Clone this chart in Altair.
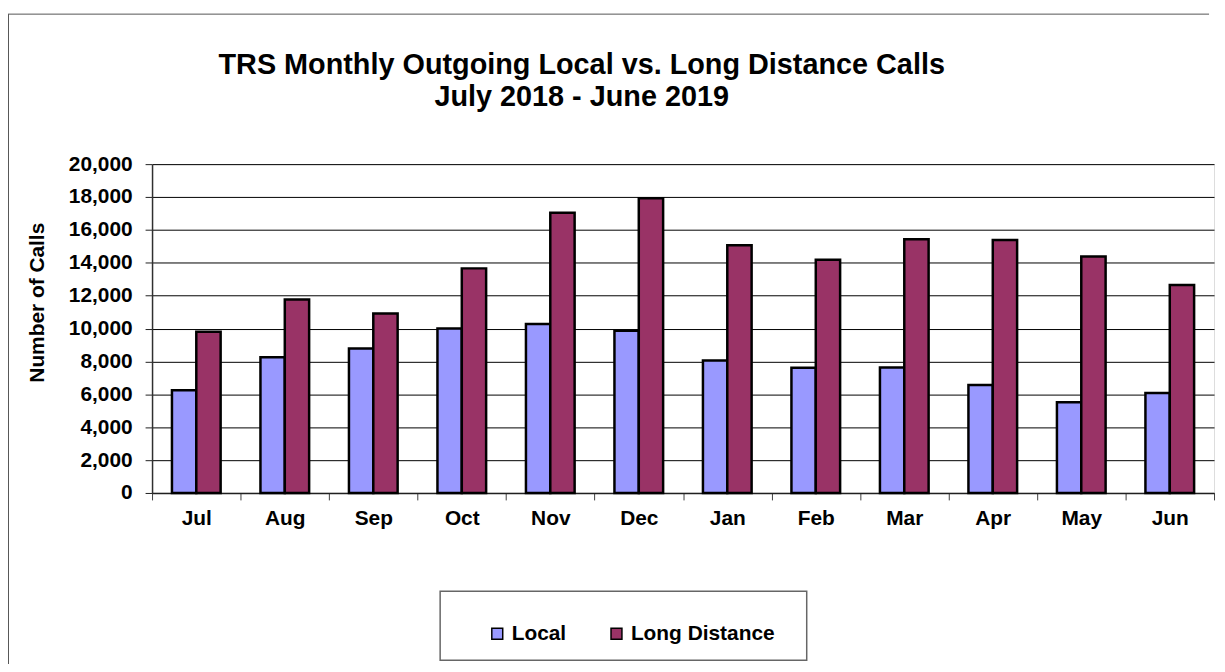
import altair as alt
import pandas as pd

months = ["Jul", "Aug", "Sep", "Oct", "Nov", "Dec", "Jan", "Feb", "Mar", "Apr", "May", "Jun"]
series = ["Local", "Long Distance"]
local = [6250, 8250, 8780, 10000, 10270, 9870, 8050, 7610, 7630, 6560, 5520, 6080]
long_distance = [9800, 11760, 10910, 13660, 17040, 17920, 15060, 14180, 15430, 15380, 14380, 12650]
y_ticks = [0, 2000, 4000, 6000, 8000, 10000, 12000, 14000, 16000, 18000, 20000]
colors = ["#9999FF", "#993366"]
title_lines = ["TRS Monthly Outgoing Local vs. Long Distance Calls", "July 2018 - June 2019"]

rows = []
for m, a, b in zip(months, local, long_distance):
    rows.append({"month": m, "series": series[0], "calls": a})
    rows.append({"month": m, "series": series[1], "calls": b})
df = pd.DataFrame(rows)

FONT = "Liberation Sans"
FS = 21
W, H = 1069, 331

bars = alt.Chart(df).mark_bar(stroke="black", strokeWidth=2.5).encode(
    x=alt.X(
        "month:N",
        sort=months,
        scale=alt.Scale(paddingInner=0, paddingOuter=0),
        axis=alt.Axis(
            title=None, labelAngle=0, tickBand="extent", grid=False,
            labelFont=FONT, labelFontSize=FS, labelFontWeight="bold", labelColor="black",
            labelPadding=8, tickSize=7, tickColor="#404040", tickWidth=1,
            domainColor="#202020", domainWidth=1.5,
        ),
    ),
    xOffset=alt.XOffset("series:N", sort=series, scale=alt.Scale(paddingInner=0, paddingOuter=0.818)),
    y=alt.Y(
        "calls:Q",
        scale=alt.Scale(domain=[0, 20000], nice=False),
        axis=alt.Axis(
            values=y_ticks, format=",.0f", title="Number of Calls",
            labelFont=FONT, labelFontSize=FS, labelFontWeight="bold", labelColor="black",
            labelPadding=13, tickSize=7, tickColor="#202020", tickWidth=1,
            domainColor="#303030", domainWidth=1.5,
            grid=True, gridColor="black", gridWidth=1, gridOpacity=1,
            titleFont=FONT, titleFontSize=FS, titleFontWeight="bold", titleColor="black",
            titleX=-115, titleY=139, titleAngle=270, titleBaseline="middle", titleAlign="center",
        ),
    ),
    color=alt.Color(
        "series:N",
        sort=series,
        scale=alt.Scale(domain=series, range=colors),
        legend=alt.Legend(
            title=None, orient="none", legendX=337, legendY=462, direction="horizontal",
            symbolType="square", symbolSize=121, symbolStrokeColor="black", symbolStrokeWidth=1.5,
            symbolOpacity=1,
            labelFont=FONT, labelFontSize=FS, labelFontWeight="bold", labelColor="black",
            labelOffset=4, columnPadding=40, padding=0,
        ),
    ),
)

legend_box = alt.Chart(alt.Data(values=[{"k": 1}])).mark_rect(
    fill="white", stroke="#666666", strokeWidth=1.5
).encode(
    x=alt.value(290), x2=alt.value(659), y=alt.value(430), y2=alt.value(499.5)
)

border_top = alt.Chart(alt.Data(values=[{"k": 1}])).mark_rule(color="#555555", strokeWidth=1).encode(
    x=alt.value(-145), x2=alt.value(1064), y=alt.value(-151)
)
border_left = alt.Chart(alt.Data(values=[{"k": 1}])).mark_rule(color="#555555", strokeWidth=1).encode(
    x=alt.value(-144.5), y=alt.value(-151), y2=alt.value(520)
)

chart = alt.layer(border_top, border_left, legend_box, bars).properties(
    width=W,
    height=H,
    autosize=alt.AutoSizeParams(type="none"),
    padding={"left": 145, "top": 155, "right": 3, "bottom": 170},
    title=alt.TitleParams(
        text=title_lines, font=FONT, fontSize=29, fontWeight="bold", color="black",
        lineHeight=32, anchor="middle", dx=-102, offset=-99,
    ),
).configure_view(
    stroke="#808080", strokeWidth=2
).configure(background="white")

chart.save("out.html", embed_options={"renderer": "svg", "actions": False})
